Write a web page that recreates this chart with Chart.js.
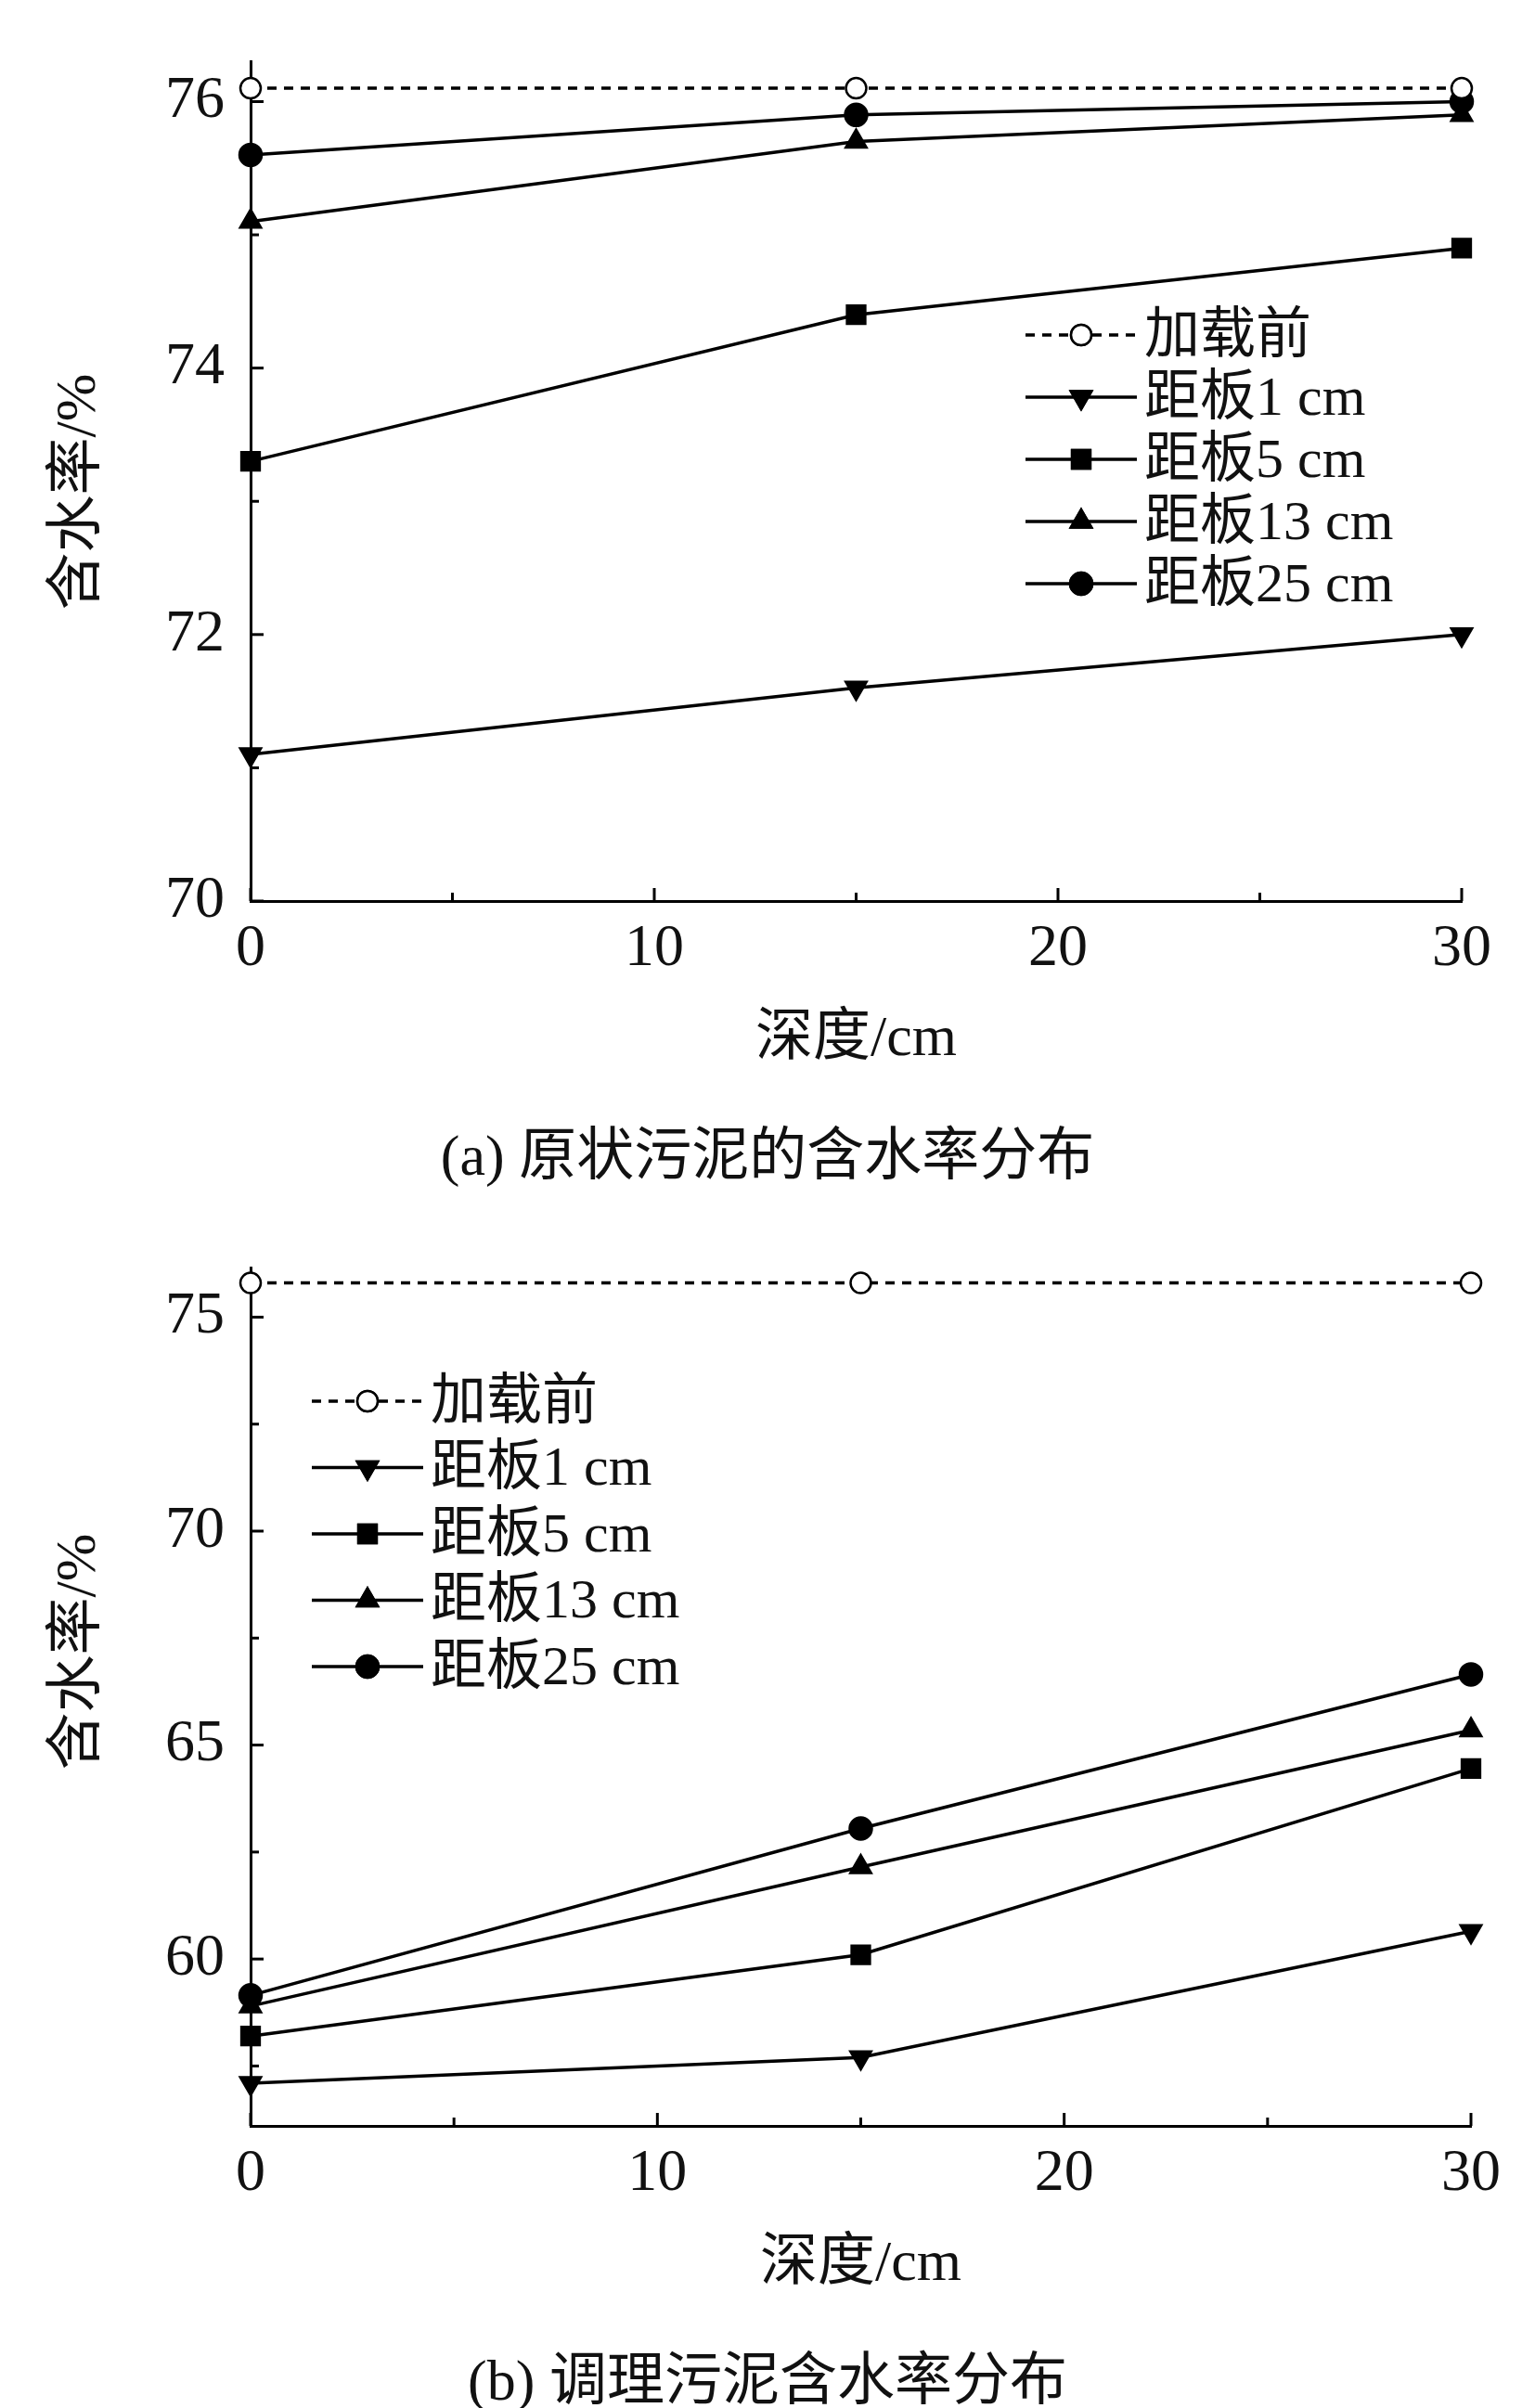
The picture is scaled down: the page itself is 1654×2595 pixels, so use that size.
<!DOCTYPE html>
<html><head><meta charset="utf-8">
<script src="https://cdn.jsdelivr.net/npm/chart.js@4"></script>
<style>
body{margin:0;background:#fff;width:1654px;height:2595px;position:relative;overflow:hidden}
.wrap{position:absolute;left:0;width:1654px}
.cap{position:absolute;left:0;width:1654px;text-align:center;font-family:"Liberation Serif","Noto Sans CJK SC";font-size:62px;color:#111}
</style></head><body>
<div class="wrap" style="top:0;height:1300px"><canvas id="c1" width="1654" height="1300"></canvas></div>
<div class="wrap" style="top:1300px;height:1295px"><canvas id="c2" width="1654" height="1295"></canvas></div>
<div class="cap" style="top:1194px">(a) 原状污泥的含水率分布</div>
<div class="cap" style="top:2514px">(b) 调理污泥含水率分布</div>
<script>
const depth = [0, 15, 30];
const seriesNames = ['加载前', '距板1 cm', '距板5 cm', '距板13 cm', '距板25 cm'];
const a_before = [76.1, 76.1, 76.1];
const a_1cm = [71.1, 71.6, 72.0];
const a_5cm = [73.3, 74.4, 74.9];
const a_13cm = [75.1, 75.7, 75.9];
const a_25cm = [75.6, 75.9, 76.0];
const b_before = [75.8, 75.8, 75.8];
const b_1cm = [57.1, 57.7, 60.65];
const b_5cm = [58.2, 60.1, 64.45];
const b_13cm = [58.9, 62.15, 65.35];
const b_25cm = [59.15, 63.05, 66.65];
const xMajor = [0, 10, 20, 30];

const FONT = '"Liberation Serif","Noto Sans CJK SC"';
const styles = [
  {pointStyle:'circle', dash:[10,8], fill:'#fff', r:11, rot:0},
  {pointStyle:'triangle', dash:[], fill:'#000', r:13, rot:180},
  {pointStyle:'rect', dash:[], fill:'#000', r:14, rot:0},
  {pointStyle:'triangle', dash:[], fill:'#000', r:13, rot:0},
  {pointStyle:'circle', dash:[], fill:'#000', r:12, rot:0}
];
function mkSets(arrs){
  return arrs.map((d,i)=>({label:seriesNames[i], data:d.map((v,j)=>({x:depth[j],y:v})),
    borderColor:'#000', borderWidth:3.5, borderDash:styles[i].dash, backgroundColor:styles[i].fill,
    pointStyle:styles[i].pointStyle, pointRadius:styles[i].r, pointRotation:styles[i].rot,
    pointBorderWidth:2.5, pointBorderColor:'#000', clip:false, tension:0}));
}
function makeChart(id, sets, cfg){
  const ticksPlugin = {id:'tk'+id, afterDraw(ch){
    const c=ch.ctx, xs=ch.scales.x, ys=ch.scales.y, ca=ch.chartArea;
    c.save(); c.strokeStyle='#000'; c.lineWidth=3;
    for(let v=0; v<=30; v+=5){const p=xs.getPixelForValue(v); const L=v%10===0?14:9;
      c.beginPath(); c.moveTo(p,ca.bottom); c.lineTo(p,ca.bottom-L); c.stroke();}
    for(let v=cfg.yMinor0; v<=cfg.ymax+1e-6; v+=cfg.yMinor){const p=ys.getPixelForValue(v);
      const maj=Math.abs((v/cfg.yStep)-Math.round(v/cfg.yStep))<1e-6; const L=maj?14:9;
      c.beginPath(); c.moveTo(ca.left,p); c.lineTo(ca.left+L,p); c.stroke();}
    c.fillStyle='#111'; c.font='62px '+FONT; c.textAlign='center'; c.textBaseline='middle';
    c.fillText('深度/cm', (ca.left+ca.right)/2, ca.bottom+cfg.xtOff);
    c.save(); c.translate(86, cfg.ytY); c.rotate(-Math.PI/2); c.fillText('含水率/%',0,0); c.restore();
    c.textAlign='left';
    c.font='60px '+FONT; c.textBaseline='middle';
    ch.data.datasets.forEach((ds,i)=>{
      const y=cfg.leg.y+i*cfg.leg.dy, x0=cfg.leg.x, x1=x0+120;
      c.setLineDash(ds.borderDash); c.lineWidth=3.5; c.beginPath(); c.moveTo(x0,y); c.lineTo(x1,y); c.stroke(); c.setLineDash([]);
      c.lineWidth=2.5;
      Chart.helpers.drawPoint(c,{pointStyle:ds.pointStyle,radius:ds.pointRadius,rotation:ds.pointRotation,borderWidth:2.5},(x0+x1)/2,y);
      c.fillStyle=ds.backgroundColor; c.fill(); c.stroke(); c.fillStyle='#111';
      c.fillText(ds.label,x1+8,y+3);
    });
    c.restore();
  }};
  return new Chart(document.getElementById(id), {type:'line', data:{datasets:sets},
    options:{responsive:false, animation:false, devicePixelRatio:1,
      layout:{padding:{left:0,top:cfg.top,right:cfg.right,bottom:0}},
      plugins:{legend:{display:false}, tooltip:{enabled:false}},
      scales:{
        x:{type:'linear', min:0, max:30, afterFit:s=>{s.height=cfg.xh;},
          afterBuildTicks:s=>{s.ticks=xMajor.map(v=>({value:v}));},
          grid:{display:false, drawTicks:false}, border:{color:'#000',width:3},
          ticks:{color:'#111', font:{family:FONT,size:64}, padding:14}},
        y:{type:'linear', min:cfg.ymin, max:cfg.ymax, afterFit:s=>{s.width=cfg.left;},
          afterBuildTicks:s=>{s.ticks=cfg.yTicks.map(v=>({value:v}));},
          grid:{display:false, drawTicks:false}, border:{color:'#000',width:3},
          ticks:{color:'#111', font:{family:FONT,size:64}, padding:28}}
      }}, plugins:[ticksPlugin]});
}
makeChart('c1', mkSets([a_before,a_1cm,a_5cm,a_13cm,a_25cm]),
  {top:26,right:79,left:270,xh:329,ymin:70,ymax:76.3,yStep:2,yMinor:1,yMinor0:70,yTicks:[70,72,74,76],
   xtOff:150, ytY:530, leg:{x:1105,y:361,dy:67}});
makeChart('c2', mkSets([b_before,b_1cm,b_5cm,b_13cm,b_25cm]),
  {top:66,right:69,left:270,xh:304,ymin:56.1,ymax:76.15,yStep:5,yMinor:2.5,yMinor0:57.5,yTicks:[60,65,70,75],
   xtOff:150, ytY:480, leg:{x:336,y:210,dy:71.5}});
</script></body></html>
